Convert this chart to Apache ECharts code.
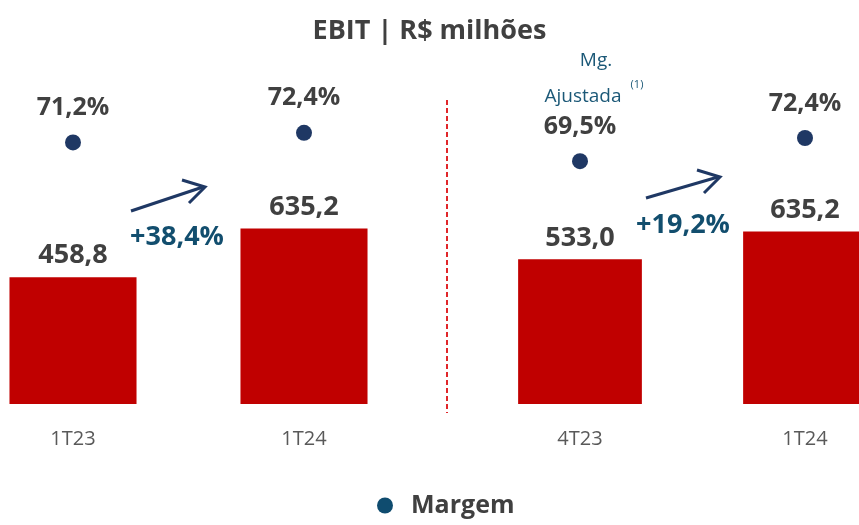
<!DOCTYPE html>
<html>
<head>
<meta charset="utf-8">
<script src="https://cdn.jsdelivr.net/npm/echarts@6/dist/echarts.min.js"></script>
<style>
  html, body { margin: 0; padding: 0; background: #fff; }
  #chart { width: 859px; height: 525px; }
</style>
</head>
<body>
<div id="chart"></div>
<script>
const leftCategories = ['1T23', '1T24'];
const rightCategories = ['4T23', '1T24'];
const leftEbit = [458.8, 635.2];
const rightEbit = [533.0, 635.2];
const leftMargin = [71.2, 72.4];
const rightMargin = [69.5, 72.4];
const leftGrowth = '+38,4%';
const rightGrowth = '+19,2%';

const fmt = (v, d) => v.toFixed(d).replace('.', ',');
const font = '"Open Sans", sans-serif';

const chart = echarts.init(document.getElementById('chart'));

const barSeries = (idx, data) => ({
    type: 'bar',
    xAxisIndex: idx,
    yAxisIndex: idx * 2,
    data: data,
    barWidth: '55%',
    itemStyle: { color: '#C00000' },
    label: {
        show: true,
        position: 'top',
        distance: 8,
        formatter: p => fmt(p.value, 1),
        color: '#404040',
        fontWeight: 'bold',
        fontSize: 27,
        fontFamily: font
    }
});

const marginSeries = (idx, data) => ({
    name: 'Margem',
    type: 'scatter',
    xAxisIndex: idx,
    yAxisIndex: idx * 2 + 1,
    data: data,
    symbolSize: 16,
    itemStyle: { color: '#1F3864', opacity: 1 },
    label: {
        show: true,
        position: 'top',
        distance: 14,
        formatter: p => fmt(p.value, 1) + '%',
        color: '#404040',
        fontWeight: 'bold',
        fontSize: 25,
        fontFamily: font
    }
});

const xAxis = (idx, cats) => ({
    type: 'category',
    gridIndex: idx,
    data: cats,
    axisLine: { show: false },
    axisTick: { show: false },
    axisLabel: { color: '#595959', fontSize: 20, margin: 25, fontFamily: font }
});

const hiddenY = (idx, min, max) => ({
    type: 'value', gridIndex: idx, min: min, max: max, show: false
});

const option = {
    animation: false,
    textStyle: { fontFamily: font },
    title: {
        text: 'EBIT | R$ milhões',
        left: 'center',
        top: 13,
        textStyle: { fontSize: 27, fontWeight: 'bold', color: '#404040', fontFamily: font }
    },
    legend: {
        bottom: 2,
        left: 372,
        icon: 'circle',
        itemWidth: 16,
        itemHeight: 16,
        itemGap: 10,
        formatter: name => '  ' + name,
        data: [{ name: 'Margem', itemStyle: { color: '#0F4C6F', opacity: 1 } }],
        textStyle: { fontSize: 25, fontWeight: 'bold', color: '#404040', fontFamily: font }
    },
    grid: [
        { left: -42.5, width: 462, top: 100, bottom: 121, containLabel: false, outerBoundsMode: 'none' },
        { left: 467.5, width: 450, top: 100, bottom: 121, containLabel: false, outerBoundsMode: 'none' }
    ],
    xAxis: [xAxis(0, leftCategories), xAxis(1, rightCategories)],
    yAxis: [
        hiddenY(0, 0, 1100),
        hiddenY(0, 38.5, 76.5),
        hiddenY(1, 0, 1120),
        hiddenY(1, 39.15, 77.15)
    ],
    series: [
        barSeries(0, leftEbit),
        marginSeries(0, leftMargin),
        barSeries(1, rightEbit),
        marginSeries(1, rightMargin)
    ],
    graphic: [
        {
            type: 'line',
            shape: { x1: 447, y1: 100, x2: 447, y2: 413 },
            style: { stroke: '#E0262A', lineWidth: 2, lineDash: [5, 3] }
        },
        {
            type: 'line',
            shape: { x1: 131, y1: 211, x2: 203, y2: 187 },
            style: { stroke: '#1F3864', lineWidth: 3 }
        },
        {
            type: 'polyline',
            shape: { points: [[182, 180], [205, 187], [189, 203]] },
            style: { stroke: '#1F3864', lineWidth: 3, fill: null }
        },
        {
            type: 'line',
            shape: { x1: 646, y1: 198, x2: 718, y2: 177 },
            style: { stroke: '#1F3864', lineWidth: 3 }
        },
        {
            type: 'polyline',
            shape: { points: [[697, 170], [720, 177], [704, 193]] },
            style: { stroke: '#1F3864', lineWidth: 3, fill: null }
        },
        {
            type: 'text',
            x: 177, y: 237,
            style: {
                text: leftGrowth, fill: '#124E6E', font: 'bold 27px ' + font,
                textAlign: 'center', textVerticalAlign: 'middle'
            }
        },
        {
            type: 'text',
            x: 683, y: 225,
            style: {
                text: rightGrowth, fill: '#124E6E', font: 'bold 27px ' + font,
                textAlign: 'center', textVerticalAlign: 'middle'
            }
        },
        {
            type: 'text',
            x: 596, y: 61,
            style: {
                text: 'Mg.', fill: '#1B5877', font: '19px ' + font,
                textAlign: 'center', textVerticalAlign: 'middle'
            }
        },
        {
            type: 'text',
            x: 583, y: 97,
            style: {
                text: 'Ajustada', fill: '#1B5877', font: '19px ' + font,
                textAlign: 'center', textVerticalAlign: 'middle'
            }
        },
        {
            type: 'text',
            x: 637, y: 85,
            style: {
                text: '(1)', fill: '#1B5877', font: '11px ' + font,
                textAlign: 'center', textVerticalAlign: 'middle'
            }
        }
    ]
};

chart.setOption(option);
</script>
</body>
</html>
